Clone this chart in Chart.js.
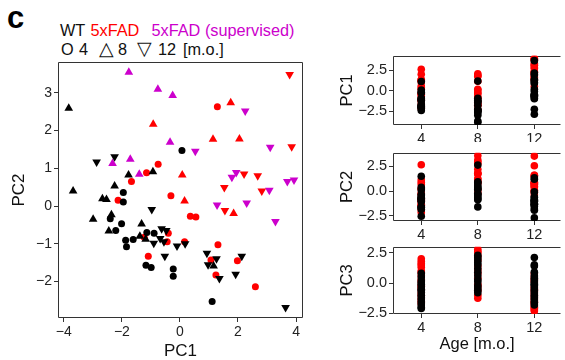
<!DOCTYPE html>
<html>
<head>
<meta charset="utf-8">
<script src="https://cdn.jsdelivr.net/npm/chart.js@4.4.1/dist/chart.umd.min.js"></script>
<style>
  html, body { margin: 0; padding: 0; width: 565px; height: 360px; overflow: hidden; background: #fff; }
  body { position: relative; font-family: "Liberation Sans", Arial, sans-serif; }
  canvas, .txt { position: absolute; }
  .txt { white-space: pre; line-height: 1; }
  #tag { left: 7px; top: 2px; font-size: 31px; font-weight: bold; }
  .leg { font-size: 16.3px; color: #111; }
  .sym { font-size: 19px; }
</style>
</head>
<body>
<div class="txt" id="tag">c</div>
<div class="txt leg" style="left:60px;top:22px">WT</div>
<div class="txt leg" style="left:90.5px;top:22px;color:#ff0000">5xFAD</div>
<div class="txt leg" style="left:151.5px;top:22px;color:#cc00cc">5xFAD (supervised)</div>
<div class="txt leg" style="left:61px;top:40.5px">O</div>
<div class="txt leg" style="left:79px;top:40.5px">4</div>
<div class="txt leg sym" style="left:98.5px;top:38.5px">△</div>
<div class="txt leg" style="left:118px;top:40.5px">8</div>
<div class="txt leg sym" style="left:137px;top:38.5px">▽</div>
<div class="txt leg" style="left:158px;top:40.5px">12</div>
<div class="txt leg" style="left:183px;top:40.5px">[m.o.]</div>

<canvas id="pca" width="315" height="362" style="left:0;top:0"></canvas>
<canvas id="pc1" width="245" height="97" style="left:320px;top:45px"></canvas>
<canvas id="pc2" width="245" height="100" style="left:320px;top:142px"></canvas>
<canvas id="pc3" width="245" height="126" style="left:320px;top:236px"></canvas>

<script>
// PCA scores (PC1 = x, PC2 = y), per genotype and age
const wt4PC1 = [0.07, -1.95, -1.95, -2.40, -2.01, -2.21, -1.14, -0.89, -1.87, -1.61, -1.84, -1.17, -0.99, -0.23, -0.23, 1.11];
const wt4PC2 = [1.47, 0.36, 0.11, -0.34, -0.47, -0.65, -0.70, -0.72, -0.91, -0.89, -1.08, -1.57, -1.63, -1.67, -1.86, -2.53];
const wt8PC1 = [-3.83, -1.77, -0.93, -3.68, -2.25, -2.67, -2.53, -2.99, -2.36, -2.45, -1.32, -1.38, -1.18, 1.16];
const wt8PC2 = [2.59, 0.82, 0.91, 0.40, 0.53, 0.19, 0.17, -0.35, -0.23, -0.66, -0.48, -0.80, -0.88, -1.59];
const wt12PC1 = [-2.87, -2.25, -0.97, -0.63, -0.47, -0.90, -0.68, -0.55, -0.10, 0.18, 0.93, 1.26, 0.97, 1.36, 2.13, 1.92, -0.52, 3.64];
const wt12PC2 = [1.17, 1.31, -0.09, -0.60, -0.65, -0.99, -0.86, -0.95, -1.06, -1.00, -1.25, -1.40, -1.56, -1.92, -1.33, -1.81, -1.33, -2.69];

const fad4PC1 = [1.29, -0.75, -1.15, -1.67, -0.31, -2.13, 0.36, 0.55, -0.40, -1.23, -0.44, 0.16, 1.31, 1.07, 1.24, 1.98, -1.09, 2.60];
const fad4PC2 = [2.63, 1.11, 0.88, 0.65, 0.27, 0.15, -0.27, -0.29, -0.72, -0.83, -0.95, -0.95, -1.03, -1.43, -1.83, -1.45, -1.33, -2.14];
const fad8PC1 = [1.75, -0.92, 1.14, 2.05, 0.08, 0.16, 1.85];
const fad8PC2 = [2.74, 2.17, 1.77, 1.78, 0.82, 0.13, -0.20];
const fad12PC1 = [3.78, 3.85, 2.21, 2.68, 1.53, 2.82, 1.55];
const fad12PC2 = [3.49, 1.57, 0.85, 0.80, 0.49, 0.40, -0.12];

const sup8PC1 = [-1.76, -0.76, -0.25, -0.34, -2.32, -1.71, -1.40];
const sup8PC2 = [3.55, 3.10, 2.93, 1.69, 1.13, 1.24, 0.84];
const sup12PC1 = [2.25, 0.53, 3.11, 1.79, 1.94, 3.70, 3.93, 3.08, 1.28, 2.30, 3.29];
const sup12PC2 = [2.52, 1.45, 1.56, 0.76, 0.89, 0.65, 0.69, 0.42, 0.03, 0.08, -0.41];

// PC3 only shows up in the strip panel
const wt4PC3 = [0.8, 0.5, 0.2, 0.0, -0.1, -0.3, -0.5, -0.6, -0.8, -1.0, -1.2, -1.4, -1.6, -1.8, -2.0, -2.1];
const fad4PC3 = [2.0, 1.8, 1.6, 1.5, 1.3, 1.0, 0.9, 0.6, 0.3, 0.1, -0.2, -0.3, -0.5, -0.8, -1.0, -1.3, -1.5, -1.7];
const wt8PC3 = [2.3, 2.1, 1.9, 1.7, 1.5, 1.2, 0.9, 0.6, 0.3, 0.1, -0.2, -0.4, -0.6, -0.8];
const fad8PC3 = [2.8, 2.6, 1.4, 0.4, -0.3, -1.0, -1.25];
const sup8PC3 = [2.5, 2.2, 1.9, 1.1, 0.8, -0.1, -0.6];
const wt12PC3 = [2.1, 1.5, 1.4, 0.9, 0.6, 0.4, 0.2, 0.0, -0.1, -0.2, -0.4, -0.6, -0.8, -1.0, -1.2, -1.4, -1.6, -1.8];
const fad12PC3 = [0.8, -0.5, -1.3, -1.9, -2.0, -2.2, -2.3];
const sup12PC3 = [0.5, 0.1, -0.3, -0.7, -0.9, -1.1, -1.5, -1.7, -2.1, 0.3, -1.6];

const ages = [4, 8, 12];
const pcaTicksX = [-4, -2, 0, 2, 4];
const pcaTicksY = [-2, -1, 0, 1, 2, 3];
const stripTicksY = [-2.5, 0, 2.5];

const BLACK = '#000000';
const RED = '#ff0000';
const MAGENTA = '#cc00cc';
const INK = '#333333';

Chart.defaults.font.family = '"Liberation Sans", Arial, sans-serif';
Chart.defaults.color = '#222';
Chart.defaults.animation = false;
Chart.defaults.plugins.legend.display = false;
Chart.defaults.plugins.tooltip.enabled = false;

const minus = s => String(s).replace('-', '\u2212');

// box around the panel (right side optional, the strips run off the page)
const frame = {
  id: 'frame',
  beforeDatasetsDraw(chart, args, opts) {
    const { ctx, chartArea: a } = chart;
    const l = Math.round(a.left) + 0.5, r = Math.round(a.right) - 0.5;
    const t = Math.round(a.top) + 0.5, b = Math.round(a.bottom) - 0.5;
    ctx.save();
    ctx.strokeStyle = INK;
    ctx.lineWidth = 1;
    ctx.beginPath();
    ctx.moveTo(r, t); ctx.lineTo(l, t); ctx.lineTo(l, b); ctx.lineTo(r, b);
    if (opts.right !== false) ctx.lineTo(r, t);
    ctx.stroke();
    ctx.restore();
  }
};

function setTicks(list) {
  return s => { s.ticks = list.map(v => ({ value: v })); };
}

function pts(xs, ys) {
  return xs.map((x, i) => ({ x: x, y: ys[i] }));
}

function col(age, vals) {
  return vals.map(v => ({ x: age, y: v }));
}

function marks(data, color, style, rot) {
  return {
    data: data,
    pointStyle: style,
    pointRotation: rot,
    pointRadius: style === 'circle' ? 3.5 : 5,
    pointBackgroundColor: color,
    pointBorderWidth: 0,
    pointHoverRadius: 0
  };
}

// main PCA scatter; first dataset is drawn on top
new Chart(document.getElementById('pca'), {
  type: 'scatter',
  data: {
    datasets: [
      marks(pts(wt4PC1, wt4PC2), BLACK, 'circle', 0),
      marks(pts(wt8PC1, wt8PC2), BLACK, 'triangle', 0),
      marks(pts(wt12PC1, wt12PC2), BLACK, 'triangle', 180),
      marks(pts(fad4PC1, fad4PC2), RED, 'circle', 0),
      marks(pts(fad8PC1, fad8PC2), RED, 'triangle', 0),
      marks(pts(fad12PC1, fad12PC2), RED, 'triangle', 180),
      marks(pts(sup8PC1, sup8PC2), MAGENTA, 'triangle', 0),
      marks(pts(sup12PC1, sup12PC2), MAGENTA, 'triangle', 180)
    ]
  },
  options: {
    responsive: false,
    devicePixelRatio: 1,
    layout: { padding: { top: 62, right: 12, left: 0, bottom: 0 } },
    scales: {
      x: {
        type: 'linear',
        min: -4.2,
        max: 4.24,
        afterBuildTicks: setTicks(pcaTicksX),
        afterFit: s => { s.height = 44; },
        grid: { drawOnChartArea: false, tickLength: 4, color: INK },
        border: { display: false },
        ticks: { font: { size: 14 }, padding: 2, callback: v => minus(v) },
        title: { display: true, text: 'PC1', color: '#111', font: { size: 17 }, padding: { top: 0, bottom: 0 } }
      },
      y: {
        type: 'linear',
        min: -2.97,
        max: 3.82,
        afterBuildTicks: setTicks(pcaTicksY),
        afterFit: s => { s.width = 58; },
        grid: { drawOnChartArea: false, tickLength: 4, color: INK },
        border: { display: false },
        ticks: { font: { size: 14 }, padding: 2, callback: v => minus(v) },
        title: { display: true, text: 'PC2', color: '#111', font: { size: 17 }, padding: { top: 9, bottom: 0 } }
      }
    }
  },
  plugins: [frame]
});

// strip panels: PC score vs age, 5xFAD (incl. supervised) red, WT black on top
function strip(id, title, wt, fad, yMin, yMax, padTop, axisH, withTitle) {
  new Chart(document.getElementById(id), {
    type: 'scatter',
    data: {
      datasets: [
        { data: wt, pointRadius: 3.8, pointBackgroundColor: BLACK, pointBorderWidth: 0, pointHoverRadius: 0 },
        { data: fad, pointRadius: 3.8, pointBackgroundColor: RED, pointBorderWidth: 0, pointHoverRadius: 0 }
      ]
    },
    options: {
      responsive: false,
      devicePixelRatio: 1,
      layout: { padding: { top: padTop, right: 0, left: 0, bottom: 0 } },
      plugins: { frame: { right: false } },
      scales: {
        x: {
          type: 'linear',
          min: 2,
          max: 13.9,
          afterBuildTicks: setTicks(ages),
          afterFit: s => { s.height = axisH; },
          grid: { drawOnChartArea: false, tickLength: 4, color: INK },
          border: { display: false },
          ticks: { font: { size: 14.5 }, padding: 1 },
          title: { display: withTitle, text: 'Age [m.o.]', color: '#111', font: { size: 16.5 }, padding: { top: 0, bottom: 8 } }
        },
        y: {
          type: 'linear',
          min: yMin,
          max: yMax,
          afterBuildTicks: setTicks(stripTicksY),
          afterFit: s => { s.width = 73; },
          grid: { drawOnChartArea: false, tickLength: 4, color: INK },
          border: { display: false },
          ticks: { font: { size: 14.5 }, padding: 2, callback: v => minus(v.toFixed(1)) },
          title: { display: true, text: title, color: '#111', font: { size: 16.5 }, padding: { top: 17.5, bottom: 0 } }
        }
      }
    },
    plugins: [frame]
  });
}

strip('pc1', 'PC1',
  [].concat(col(4, wt4PC1), col(8, wt8PC1), col(12, wt12PC1)),
  [].concat(col(4, fad4PC1), col(8, fad8PC1), col(8, sup8PC1), col(12, fad12PC1), col(12, sup12PC1)),
  -4.17, 4.24, 10, 17, false);

strip('pc2', 'PC2',
  [].concat(col(4, wt4PC2), col(8, wt8PC2), col(12, wt12PC2)),
  [].concat(col(4, fad4PC2), col(8, fad8PC2), col(8, sup8PC2), col(12, fad12PC2), col(12, sup12PC2)),
  -3.0, 3.83, 8, 21, false);

strip('pc3', 'PC3',
  [].concat(col(4, wt4PC3), col(8, wt8PC3), col(12, wt12PC3)),
  [].concat(col(4, fad4PC3), col(8, fad8PC3), col(8, sup8PC3), col(12, fad12PC3), col(12, sup12PC3)),
  -2.55, 3.0, 7, 48, true);
</script>
</body>
</html>
